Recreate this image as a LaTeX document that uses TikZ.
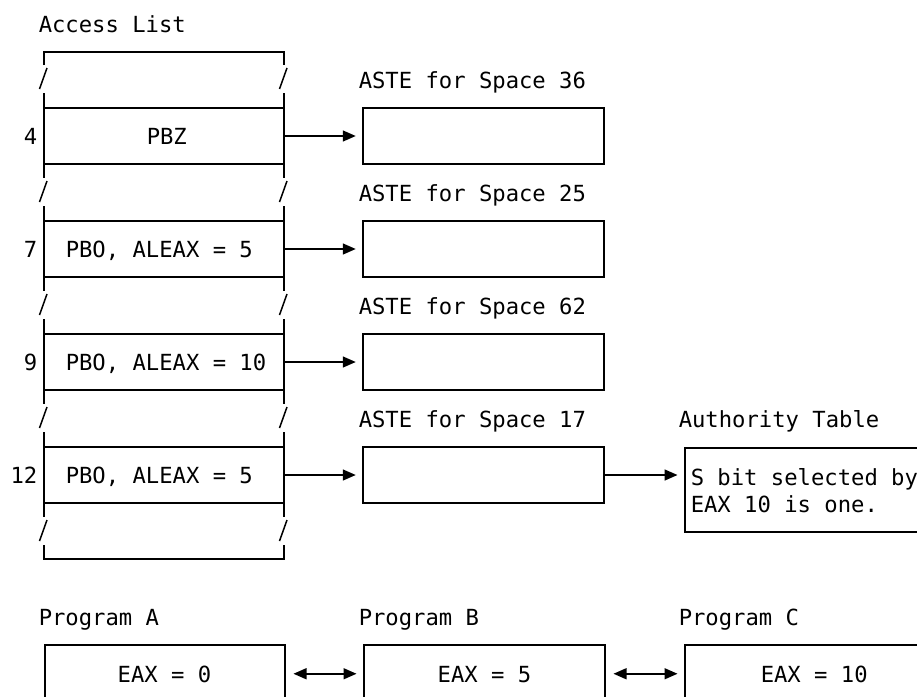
\documentclass[tikz,border=0pt]{standalone}
\usepackage{fontspec}
\setmonofont{DejaVu Sans Mono}
\usetikzlibrary{arrows.meta, positioning, calc}

\begin{document}
\begin{tikzpicture}[x=1pt, y=-1pt, line width=1.5pt,
    every node/.style={font=\fontsize{22.2}{26}\selectfont\ttfamily, inner sep=0pt},
    cell/.style={draw, minimum width=240pt, minimum height=56pt},
    astebox/.style={draw, minimum width=241pt, minimum height=56pt},
    progbox/.style={draw, anchor=north west, minimum height=58pt},
    ptr/.style={-{Triangle[length=13pt,width=11pt]}, shorten >=6.5pt},
    link/.style={{Triangle[length=13pt,width=11pt]}-{Triangle[length=13pt,width=11pt]}, shorten <=8pt, shorten >=6.5pt}]
  \useasboundingbox (0,0) rectangle (917,696);
  \clip (0,0) rectangle (917,696);

  % access list
  \node[anchor=base west] (title) at (38,32) {Access List};
  \draw (44,65) -- (44,52) -- (284,52) -- (284,65);
  \draw (44,545) -- (44,559) -- (284,559) -- (284,545);
  \foreach \x in {44,284} {
    \foreach \j in {0,...,3}
      \draw (\x,{93+113*\j}) -- (\x,{178+113*\j});
    \foreach \j in {0,...,4}
      \draw[line width=1.5pt] (\x-4.5,{89+113*\j}) -- (\x+3,{68+113*\j});
  }

  % entries and their ASTEs
  \foreach \n/\txt/\tx/\sp [count=\k from 0] in
      {4/PBZ/146/36, 7/{PBO, ALEAX = 5}/65/25, 9/{PBO, ALEAX = 10}/65/62, 12/{PBO, ALEAX = 5}/65/17} {
    \node[cell] (e\n) at (164,{136+113*\k}) {};
    \node[anchor=base west] (e\n-t) at (\tx,{144+113*\k}) {\txt};
    \node[anchor=base east] (e\n-n) at (38,{144+113*\k}) {\n};
    \node[anchor=base west] (l\sp) at (358,{88+113*\k}) {ASTE for Space \sp};
    \node[astebox] (a\sp) at (483.5,{136+113*\k}) {};
    \draw[ptr] (e\n) -- (a\sp);
  }

  % authority table
  \node[anchor=base west] (auth-l) at (678,427) {Authority Table};
  \node[draw, anchor=north west, minimum width=260pt, minimum height=84pt] (auth) at (684,447) {};
  \node[anchor=base west] (auth-t1) at (690,485) {S bit selected by};
  \node[anchor=base west] (auth-t2) at (690,512) {EAX 10 is one.};
  \draw[ptr] (a17.east) -- (a17.east -| auth.west);

  % programs
  \node[anchor=base west] (pa-l) at (38,625) {Program A};
  \node[anchor=base west] (pb-l) at (358,625) {Program B};
  \node[anchor=base west] (pc-l) at (678,625) {Program C};
  \node[progbox, minimum width=240pt] (pa) at (44,644) {};
  \node[progbox, minimum width=241pt] (pb) at (363,644) {};
  \node[progbox, minimum width=260pt] (pc) at (684,644) {};
  \node[anchor=base] (pa-t) at (164.5,682) {EAX = 0};
  \node[anchor=base] (pb-t) at (484.5,682) {EAX = 5};
  \node[anchor=base west] (pc-t) at (760,682) {EAX = 10};
  \draw[link] (pa) -- (pb);
  \draw[link] (pb) -- (pc.west);
\end{tikzpicture}
\end{document}
